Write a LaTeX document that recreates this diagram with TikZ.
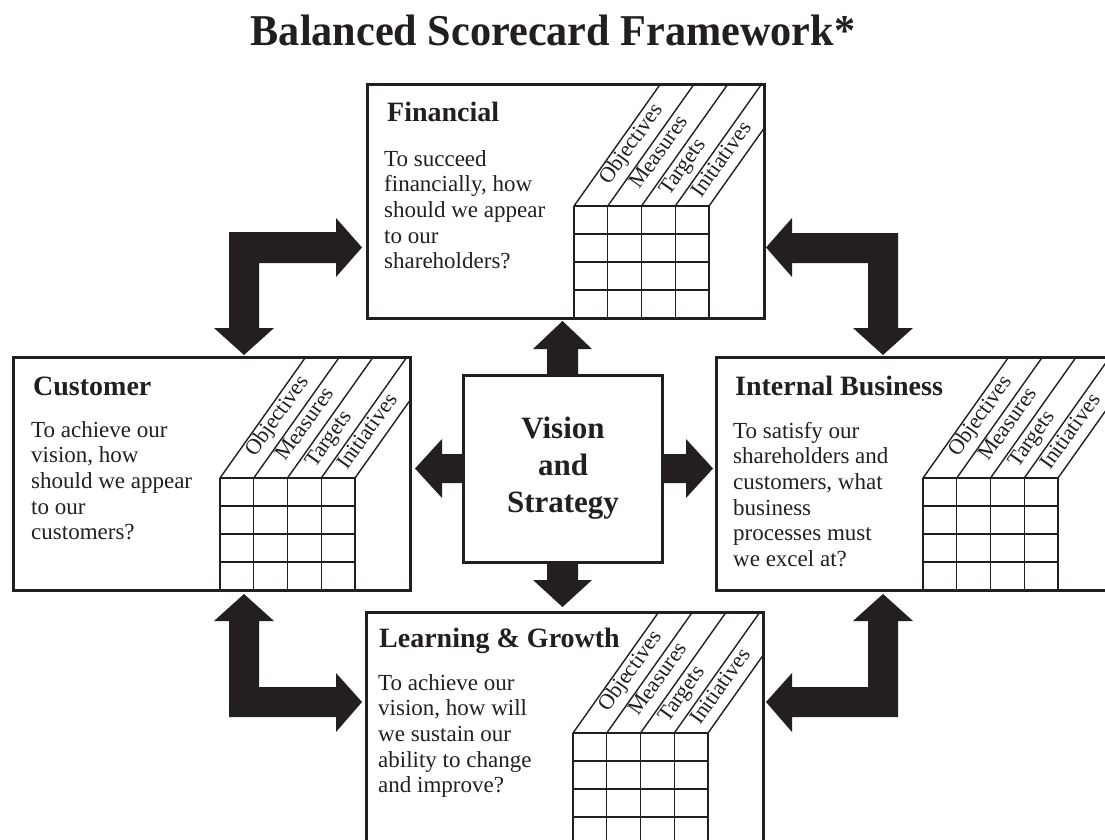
\documentclass[tikz,border=0pt]{standalone}
\usepackage{fontspec}
\setmainfont{Liberation Serif}
\usetikzlibrary{calc}
\definecolor{ink}{HTML}{231F20}
\tikzset{
  panelframe/.style={draw=ink, line width=3pt, fill=white, inner sep=0pt, outer sep=0pt, anchor=north west, minimum width=397pt, minimum height=233pt},
  gridline/.style={draw=ink, line width=1.4pt},
  fatarrow/.style={fill=ink, draw=none},
  stripelabel/.style={font=\fontsize{22}{22}\selectfont, text=ink, rotate=54.7, anchor=base west, inner sep=0pt},
  heading/.style={font=\bfseries\fontsize{28}{28}\selectfont, text=ink, anchor=base west, inner sep=0pt},
  body/.style={text=ink, anchor=base west, inner sep=0pt},
}
\newcommand{\bscpanel}[3]{%
  \node[panelframe] (#1) at (#2,#3) {};
  \begin{scope}[shift={(#2,#3)}]
    \begin{scope}
      \clip (0,0) rectangle (397,233);
      \foreach \xi in {0,...,4} {
        \draw[gridline] ({207+\xi*33.75},121) -- ++(120,-169.4);
        \draw[gridline] ({207+\xi*33.75},121) -- ({207+\xi*33.75},300);
      }
      \foreach \yj in {0,...,5} \draw[gridline] (207,{121+\yj*28}) -- (342,{121+\yj*28});
    \end{scope}
    \draw[draw=ink, line width=3pt] (0,0) rectangle (397,233);
    \foreach \lab/\sv [count=\kk] in {Objectives/17, Measures/12, Targets/4, Initiatives/1}
      \node[stripelabel] at ({207+\kk*33.75+\sv*0.578-10.5*0.816},{121-\sv*0.816-10.5*0.578}) {\lab};
  \end{scope}
}
\newcommand{\bodytext}[1]{\parbox[t]{230pt}{\raggedright\fontsize{23}{25.7}\selectfont #1}}
\begin{document}
\begin{tikzpicture}[x=1pt, y=-1pt]
\useasboundingbox (0,0) rectangle (1105,840);
\fill[white] (0,0) rectangle (1105,840);
\clip (0,0) rectangle (1105,840);

% title
\node[anchor=base, inner sep=0pt, text=ink, font=\bfseries\fontsize{44}{44}\selectfont] (title) at (553,46) {\scalebox{0.96}[1]{Balanced Scorecard Framework*}};

% panels
\bscpanel{fin}{367}{85}
\bscpanel{cust}{13}{357}
\bscpanel{intb}{716}{357}
\bscpanel{learn}{366}{612}

% headings
\node[heading] (finh) at (387,122) {Financial};
\node[heading] (custh) at (33,395) {Customer};
\node[heading] (intbh) at (735,395) {Internal Business};
\node[heading] (learnh) at (379,647) {Learning \& Growth};

% body texts
\node[body] (fint) at (384,166) {\bodytext{To succeed\\ financially, how\\ should we appear\\ to our\\ shareholders?}};
\node[body] (custt) at (31,437) {\bodytext{To achieve our\\ vision, how\\ should we appear\\ to our\\ customers?}};
\node[body] (intbt) at (733,438) {\bodytext{To satisfy our\\ shareholders and\\ customers, what\\ business\\ processes must\\ we excel at?}};
\node[body] (learnt) at (378,690) {\bodytext{To achieve our\\ vision, how will\\ we sustain our\\ ability to change\\ and improve?}};

% vision box
\node[draw=ink, line width=3pt, fill=white, minimum width=199pt, minimum height=187pt, inner sep=0pt, outer sep=0pt] (vision) at (562.5,468.5) {};
\node[anchor=base, inner sep=0pt, text=ink] (visiont) at (563,438) {\parbox[t]{190pt}{\centering\bfseries\fontsize{31}{37.3}\selectfont Vision\\ and\\ Strategy}};

% arrows from vision
\fill[fatarrow] (547,376) -- (547,349) -- (533,349) -- (562.5,321) -- (592,349) -- (578,349) -- (578,376) -- cycle;
\fill[fatarrow] (547,561) -- (547,580) -- (533,580) -- (562.5,607) -- (592,580) -- (578,580) -- (578,561) -- cycle;
\fill[fatarrow] (464,454) -- (442,454) -- (442,439) -- (415,468.5) -- (442,498) -- (442,483) -- (464,483) -- cycle;
\fill[fatarrow] (661,454) -- (686,454) -- (686,439) -- (713,468.5) -- (686,498) -- (686,483) -- (661,483) -- cycle;

% L arrows
\fill[fatarrow] (229,232) -- (336,232) -- (336,218) -- (362,247.5) -- (336,277) -- (336,263) -- (259,263) -- (259,328) -- (274,328) -- (244,355) -- (214,328) -- (229,328) -- cycle;
\fill[fatarrow] (898,233) -- (792,233) -- (792,218) -- (766,247.5) -- (792,277) -- (792,263) -- (868,263) -- (868,328) -- (853,328) -- (883,355) -- (913,328) -- (898,328) -- cycle;
\fill[fatarrow] (229,717) -- (229,621) -- (214,621) -- (244,594) -- (274,621) -- (259,621) -- (259,687) -- (336,687) -- (336,673) -- (362,702) -- (336,732) -- (336,717) -- cycle;
\fill[fatarrow] (898,717) -- (898,621) -- (913,621) -- (883,594) -- (853,621) -- (868,621) -- (868,687) -- (792,687) -- (792,673) -- (766,702) -- (792,732) -- (792,717) -- cycle;
\end{tikzpicture}
\end{document}
